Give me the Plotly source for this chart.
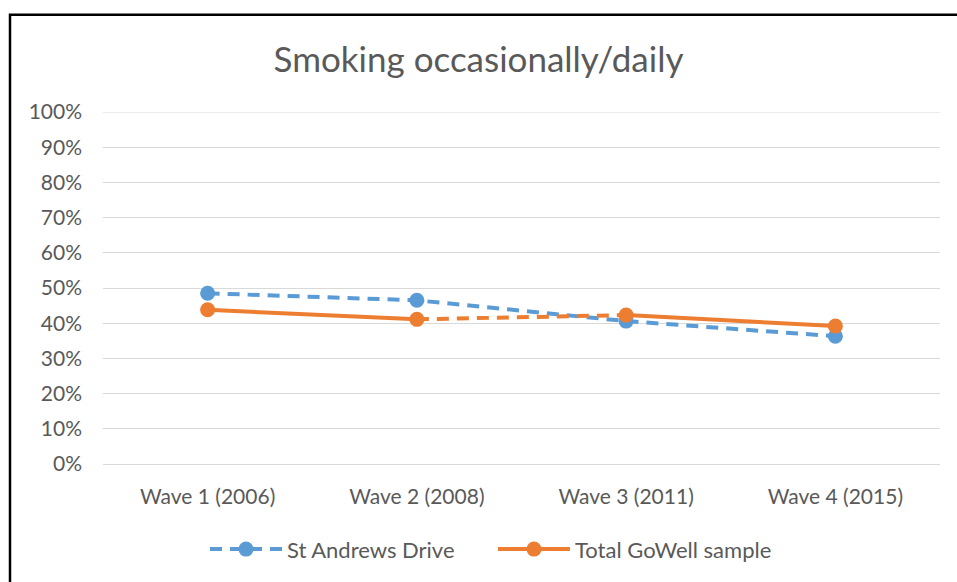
import plotly.graph_objects as go

# Survey waves and smoking prevalence (%)
waves = ["Wave 1 (2006)", "Wave 2 (2008)", "Wave 3 (2011)", "Wave 4 (2015)"]
st_andrews = [48.5, 46.5, 40.6, 36.3]
gowell_total = [43.8, 41.1, 42.3, 39.2]

BLUE = "#5B9BD5"
ORANGE = "#ED7D31"
GREY = "#595959"
GRID = "#D9D9D9"
FONT = "Lato"

W, H = 957, 582
L, R, T, B = 103, 17, 112, 115
pw, ph = W - L - R, H - T - B

def px_x(p):
    return (p - L) / pw

def px_y(p):
    return (H - B - p) / ph

xs = list(range(len(waves)))

fig = go.Figure()

fig.add_trace(go.Scatter(
    x=xs, y=st_andrews, name="St Andrews Drive", mode="lines+markers",
    line=dict(color=BLUE, width=4, dash="12px,8px"),
    marker=dict(color=BLUE, size=15),
))

# Wave 2 -> Wave 3 segment of the total sample is dashed
fig.add_trace(go.Scatter(
    x=xs[1:3], y=gowell_total[1:3], mode="lines", showlegend=False,
    line=dict(color=ORANGE, width=4, dash="12px,8px"), hoverinfo="skip",
))

# Remaining solid segments, broken between waves 2 and 3
solid_x = xs[:2] + [None] + xs[2:]
solid_y = gowell_total[:2] + [None] + gowell_total[2:]
fig.add_trace(go.Scatter(
    x=solid_x, y=solid_y, name="Total GoWell sample", mode="lines+markers",
    line=dict(color=ORANGE, width=4),
    marker=dict(color=ORANGE, size=15),
))

fig.update_layout(
    width=W, height=H,
    margin=dict(l=L, r=R, t=T, b=B),
    paper_bgcolor="white", plot_bgcolor="white",
    font=dict(family=FONT, color=GREY, size=21),
    title=dict(text="Smoking occasionally/daily", x=0.5, xanchor="center",
               y=1 - 60 / H, yanchor="middle",
               font=dict(family=FONT, size=35, color=GREY)),
    showlegend=True,
    legend=dict(orientation="h", x=px_x(493), xanchor="center",
                y=px_y(553), yanchor="middle",
                font=dict(family=FONT, size=22, color=GREY),
                itemwidth=72, entrywidth=201, entrywidthmode="pixels",
                bgcolor="rgba(0,0,0,0)"),
    xaxis=dict(range=[-0.5, len(waves) - 0.5], tickvals=xs, ticktext=waves,
               showgrid=False, zeroline=False, showline=False, ticks="",
               ticklabelstandoff=18, tickfont=dict(size=21, color=GREY)),
    yaxis=dict(range=[0, 100], dtick=10, ticksuffix="%",
               showgrid=True, gridcolor=GRID, gridwidth=1,
               zeroline=True, zerolinecolor=GRID, zerolinewidth=1,
               showline=False, ticks="",
               ticklabelstandoff=20, tickfont=dict(size=21, color=GREY)),
    shapes=[
        # top gridline at 100%
        dict(type="line", xref="paper", yref="y", x0=0, x1=1, y0=100, y1=100,
             line=dict(color=GRID, width=1), layer="below"),
        # chart border
        dict(type="rect", xref="paper", yref="paper",
             x0=px_x(10), x1=px_x(990), y0=px_y(620), y1=px_y(14),
             line=dict(color="black", width=2.5), layer="above"),
    ],
)

fig.write_html("out.html")
